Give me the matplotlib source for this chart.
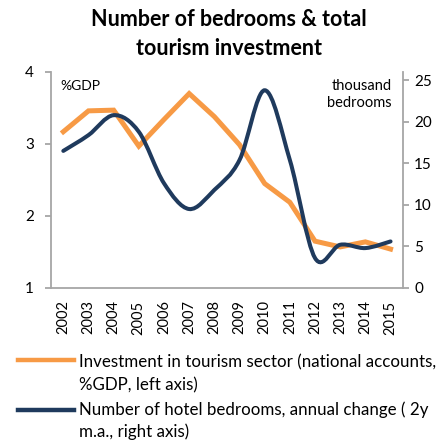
import numpy as np
import matplotlib
matplotlib.use("Agg")
from matplotlib import pyplot as plt
from matplotlib.path import Path
from matplotlib.patches import PathPatch
from matplotlib.lines import Line2D

years = [2002, 2003, 2004, 2005, 2006, 2007, 2008, 2009, 2010, 2011, 2012, 2013, 2014, 2015]
invest = [3.17, 3.46, 3.47, 2.97, 3.34, 3.70, 3.38, 2.99, 2.45, 2.19, 1.65, 1.57, 1.64, 1.54]
bedrooms = [16.5, 18.4, 20.8, 18.8, 12.6, 9.5, 11.8, 15.4, 23.8, 15.4, 3.6, 5.2, 4.8, 5.6]
year_labels = [str(y) for y in years]

orange = '#F79A45'
navy = '#1F3A5D'
grey = '#A6A6A6'

plt.rcParams['font.family'] = ['Lato', 'DejaVu Sans']


def smooth_path(x, y):
    # excel-like smoothed line: catmull-rom segments as cubic beziers
    x = np.asarray(x, float)
    y = np.asarray(y, float)
    n = len(x)
    verts = [(x[0], y[0])]
    codes = [Path.MOVETO]
    for i in range(n - 1):
        i0 = max(i - 1, 0)
        i3 = min(i + 2, n - 1)
        c1 = (x[i] + (x[i + 1] - x[i0]) / 6, y[i] + (y[i + 1] - y[i0]) / 6)
        c2 = (x[i + 1] - (x[i3] - x[i]) / 6, y[i + 1] - (y[i3] - y[i]) / 6)
        verts += [c1, c2, (x[i + 1], y[i + 1])]
        codes += [Path.CURVE4] * 3
    return Path(verts, codes)


def fy(px):
    # pixel row -> figure fraction
    return 1 - px / 443


fig = plt.figure(figsize=(4.43, 4.43), dpi=100)
ax = fig.add_axes([0.1145, 0.35, 0.7955, 0.4875])
ax2 = ax.twinx()

ax.plot(years, invest, color=orange, lw=3.6, solid_joinstyle='miter', zorder=3)
ax2.add_patch(PathPatch(smooth_path(years, bedrooms), fill=False, edgecolor=navy,
                        lw=2.9, capstyle='round', zorder=4))

ax.set_xlim(2001.5, 2015.5)
ax.set_ylim(1, 4)
ax.set_yticks([1, 2, 3, 4])
ax2.set_ylim(0, 26)
ax2.set_yticks([0, 5, 10, 15, 20, 25])
ax.set_xticks(years)
ax.set_xticklabels(year_labels, rotation=90)

for a in (ax, ax2):
    for s in a.spines.values():
        s.set_visible(False)
ax.spines['left'].set_visible(True)
ax.spines['bottom'].set_visible(True)
ax2.spines['right'].set_visible(True)
for s in (ax.spines['left'], ax.spines['bottom'], ax2.spines['right']):
    s.set_color(grey)
    s.set_linewidth(1.3)

ax.tick_params(axis='x', length=0, pad=9, labelsize=10.5, colors='black')
ax.tick_params(axis='y', length=4, width=1.3, color=grey, pad=8, labelsize=11)
ax2.tick_params(axis='y', length=4.5, width=1.3, color=grey, pad=3.5, labelsize=11)

fig.text(60 / 443, fy(90), '%GDP', fontsize=10, va='baseline')
fig.text(392 / 443, fy(90), 'thousand', fontsize=10.5, ha='right', va='baseline')
fig.text(392 / 443, fy(107), 'bedrooms', fontsize=10.5, ha='right', va='baseline')

fig.text(0.517, fy(25.7), 'Number of bedrooms & total', ha='center', va='baseline',
         fontsize=15.5, fontweight='bold')
fig.text(0.517, fy(55), 'tourism investment', ha='center', va='baseline',
         fontsize=15.5, fontweight='bold')

# legend
fig.add_artist(Line2D([0.041, 0.167], [fy(360), fy(360)], color=orange, lw=3.2))
fig.text(0.178, fy(367), 'Investment in tourism sector (national accounts,', fontsize=12.2,
         va='baseline')
fig.text(0.178, fy(390), '%GDP, left axis)', fontsize=12.2, va='baseline')
fig.add_artist(Line2D([0.041, 0.167], [fy(410), fy(410)], color=navy, lw=3.2))
fig.text(0.178, fy(414.5), 'Number of hotel bedrooms, annual change ( 2y', fontsize=12.2,
         va='baseline')
fig.text(0.178, fy(437), 'm.a., right axis)', fontsize=12.2, va='baseline')

fig.savefig('out.png', dpi=100)
